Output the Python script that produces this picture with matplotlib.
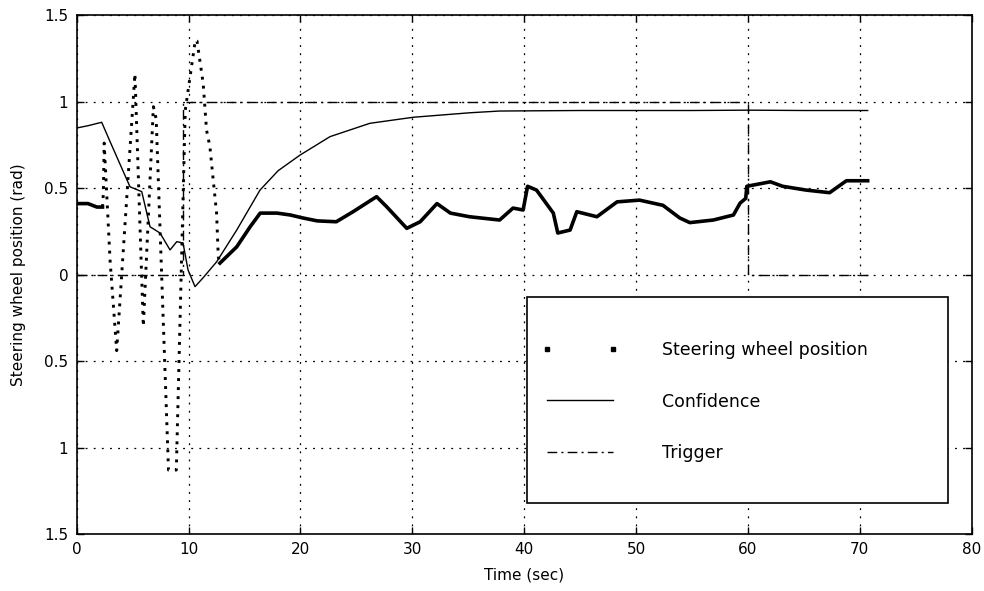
import numpy as np
import matplotlib
matplotlib.use("Agg")
import matplotlib.pyplot as plt
from matplotlib.lines import Line2D
from matplotlib.patches import Rectangle

# steering wheel position (rad)
steer_t = np.array([0, 1.0, 1.8, 2.3, 2.38, 2.45, 2.98, 3.57, 5.2, 5.95, 6.85, 7.1,
                    8.2, 8.9, 9.7, 10.6, 10.75, 11.3, 11.6, 11.9, 12.2, 12.5, 12.65,
                    12.8, 14.3, 15.5, 16.4, 17.9, 19.1, 20.2, 21.5, 23.2, 24.7, 26.8,
                    27.7, 29.5, 30.7, 32.2, 33.4, 35.1, 37.8, 39.0, 39.9, 40.3, 41.1,
                    42.6, 43.0, 44.1, 44.7, 46.5, 48.3, 50.3, 52.4, 53.9, 54.8, 56.9,
                    58.7, 59.3, 59.8, 59.9, 62.0, 63.1, 65.2, 67.3, 68.8, 70.7])
steer_v = np.array([0.41, 0.41, 0.39, 0.39, 0.47, 0.76, 0.08, -0.44, 1.16, -0.30, 0.97, 0.90,
                    -1.13, -1.13, 0.95, 1.355, 1.35, 1.105, 0.835, 0.74, 0.546, 0.354, 0.103,
                    0.066, 0.16, 0.276, 0.355, 0.355, 0.344, 0.327, 0.31, 0.305, 0.363, 0.45,
                    0.392, 0.267, 0.305, 0.41, 0.355, 0.334, 0.315, 0.384, 0.373, 0.51, 0.488,
                    0.355, 0.24, 0.257, 0.363, 0.334, 0.42, 0.43, 0.40, 0.327, 0.30, 0.315,
                    0.344, 0.413, 0.44, 0.51, 0.536, 0.51, 0.488, 0.473, 0.542, 0.542])

# confidence
conf_t = np.array([0, 1.0, 2.23, 2.98, 4.76, 5.81, 6.55, 7.44, 8.34, 8.94, 9.5, 9.95,
                   10.57, 11.28, 12.51, 14.3, 16.38, 18.0, 19.95, 22.64, 26.2, 30.08,
                   35.15, 37.8, 45, 55, 60, 65, 70.7])
conf_v = np.array([0.847, 0.86, 0.88, 0.768, 0.507, 0.479, 0.276, 0.24, 0.142, 0.19, 0.182,
                   0.026, -0.07, -0.02, 0.074, 0.257, 0.488, 0.60, 0.69, 0.797, 0.874, 0.909,
                   0.935, 0.945, 0.948, 0.948, 0.95, 0.948, 0.948])

# trigger
trig_t = np.array([0, 9.53, 9.53, 60.0, 60.0, 70.7])
trig_v = np.array([0, 0, 1, 1, 0, 0])

xticks = [0, 10, 20, 30, 40, 50, 60, 70, 80]
yticks = [-1.5, -1, -0.5, 0, 0.5, 1, 1.5]
ytick_labels = ['1.5', '1', '0.5', '0', '0.5', '1', '1.5']

plt.rcParams['font.family'] = ['DejaVu Sans']

fig = plt.figure(figsize=(9.84, 5.91), dpi=100)
ax = fig.add_axes([0.078, 0.0964, 0.9095, 0.8782])

# steering: slow parts drawn solid/thick, oscillating part dotted
i0 = 3   # t = 2.3
i1 = 23  # t = 12.8
ax.plot(steer_t[:i0 + 1], steer_v[:i0 + 1], color='k', lw=2.6, zorder=4)
ax.plot(steer_t[i0:i1 + 1], steer_v[i0:i1 + 1], color='k', lw=2.1,
        dashes=(1, 2.1), dash_capstyle='butt', zorder=4)
ax.plot(steer_t[i1:], steer_v[i1:], color='k', lw=2.6, zorder=4)

ax.plot(conf_t, conf_v, color='k', lw=1.0, zorder=4)
ax.plot(trig_t, trig_v, color='k', lw=1.0, dashes=(7, 3, 1.5, 3), zorder=4)

ax.set_xlim(0, 80)
ax.set_ylim(-1.5, 1.5)
ax.set_xticks(xticks)
ax.set_yticks(yticks)
ax.set_yticklabels(ytick_labels)
ax.tick_params(direction='in', length=5, width=1, top=True, right=True,
               labelsize=11, pad=6)
ax.grid(True, color='k', lw=0.9, dashes=(1.5, 5))
for s in ax.spines.values():
    s.set_linewidth(1.2)

ax.set_xlabel('Time (sec)', fontsize=11, labelpad=7)
ax.set_ylabel('Steering wheel position (rad)', fontsize=11, labelpad=13)

# legend box
box = Rectangle((0.503, 0.0597), 0.4705, 0.397, transform=ax.transAxes,
                facecolor='white', edgecolor='k', lw=1.2, zorder=5)
ax.add_patch(box)
handles = [Line2D([], [], ls='none', marker='s', ms=2.6, color='k'),
           Line2D([], [], color='k', lw=1.0),
           Line2D([], [], color='k', lw=1.0, dashes=(7, 3, 1.5, 3))]
labels = ['Steering wheel position', 'Confidence', 'Trigger']
leg = ax.legend(handles, labels, loc='center left', bbox_to_anchor=(0.52, 0.2553),
                frameon=False, numpoints=2, fontsize=12.5, handlelength=4.4,
                handletextpad=2.5, labelspacing=1.95, borderpad=0, borderaxespad=0)
leg.set_zorder(6)

fig.savefig('out.png', dpi=100)
